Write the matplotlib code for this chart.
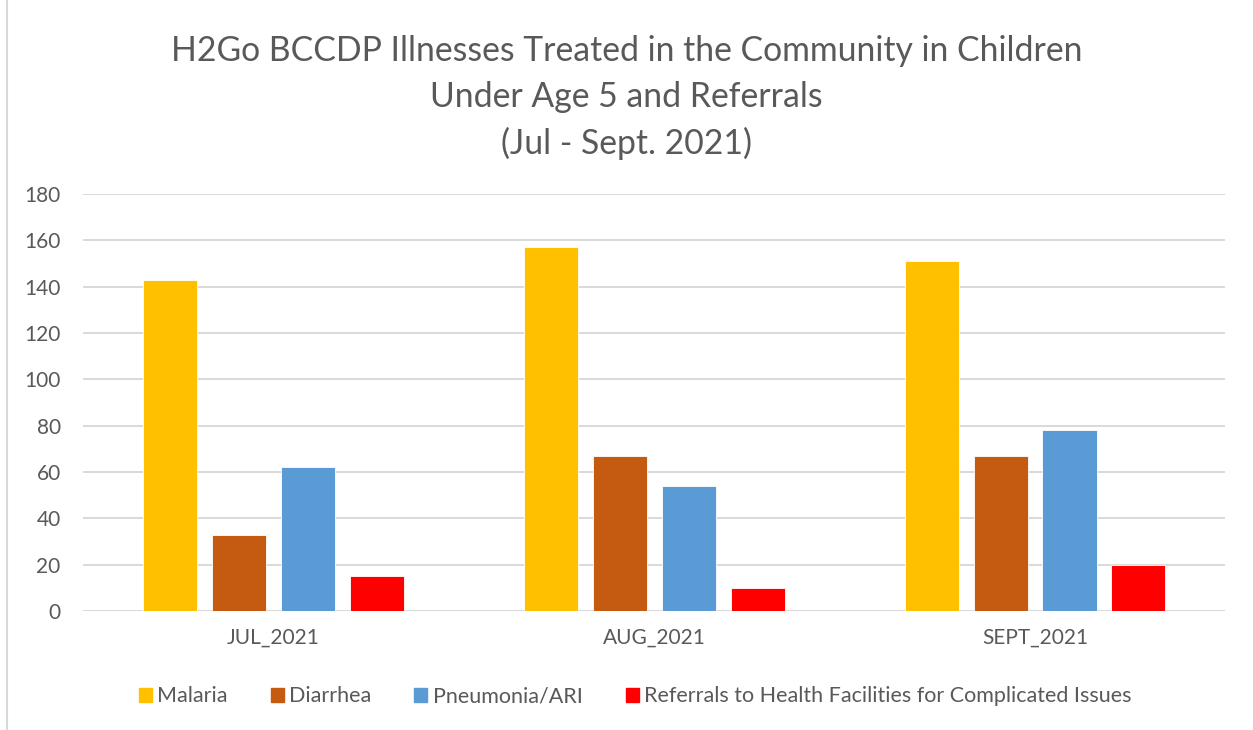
import numpy as np
import matplotlib.pyplot as plt
from matplotlib.lines import Line2D

# === Data ===
months = ["JUL_2021", "AUG_2021", "SEPT_2021"]
series_names = ["Malaria", "Diarrhea", "Pneumonia/ARI",
                "Referrals to Health Facilities for Complicated Issues"]
malaria = [143, 157, 151]
diarrhea = [33, 67, 67]
pneumonia = [62, 54, 78]
referrals = [15, 10, 20]
colors = ["#FFC000", "#C55A11", "#5B9BD5", "#FF0000"]

plt.rcParams['font.family'] = ['Lato', 'DejaVu Sans']
text_col = "#595959"

fig = plt.figure(figsize=(12.53, 7.3), dpi=100)
ax = fig.add_axes([0.0662, 0.163, 0.9118, 0.571])

x = np.arange(len(months))
width = 0.142
step = 0.181
for i, (vals, name) in enumerate(zip([malaria, diarrhea, pneumonia, referrals], series_names)):
    ax.bar(x + (i - 1.5) * step, vals, width, color=colors[i], label=name,
           edgecolor="white", linewidth=0.6, zorder=3)

ax.set_xlim(-0.5, 2.5)
ax.set_ylim(0, 180)
ax.set_yticks(range(0, 181, 20))
ax.set_xticks(x)
ax.set_xticklabels(months)
ax.tick_params(axis="both", length=0, labelsize=15, colors=text_col)
ax.tick_params(axis="x", pad=12)
ax.tick_params(axis="y", pad=16)
ax.yaxis.grid(True, color="#d9d9d9", linewidth=1.4, zorder=0)
for s in ax.spines.values():
    s.set_visible(False)
ax.axhline(0, color="#d9d9d9", linewidth=1.4, zorder=2)

fig.suptitle("H2Go BCCDP Illnesses Treated in the Community in Children\nUnder Age 5 and Referrals\n(Jul - Sept. 2021)",
             y=0.952, fontsize=24.3, color=text_col, linespacing=1.52)

handles = [plt.Rectangle((0, 0), 1, 1, color=c) for c in colors]
leg = fig.legend(handles, series_names, loc="center", bbox_to_anchor=(0.507, 0.046),
                 ncol=4, frameon=False, fontsize=15.5, handlelength=0.6, handleheight=0.6,
                 handletextpad=0.25, columnspacing=2.0)
for t in leg.get_texts():
    t.set_color(text_col)

# chart border on the left
fig.add_artist(Line2D([0.0056, 0.0056], [0, 1], color="#d9d9d9", linewidth=1.5))

fig.savefig("out.png", dpi=100)
